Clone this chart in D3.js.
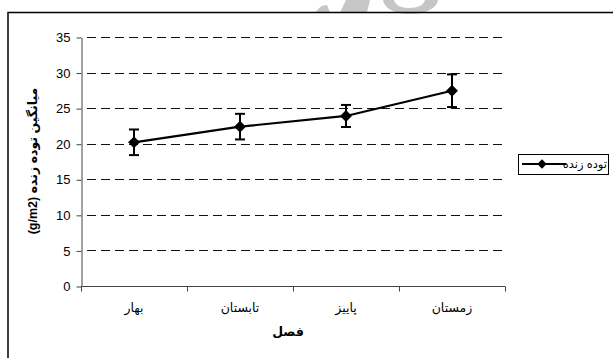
<!DOCTYPE html>
<html>
<head>
<meta charset="utf-8">
<script src="https://cdn.jsdelivr.net/npm/d3@7"></script>
<style>
  html, body { margin: 0; padding: 0; background: #fff; }
  svg { display: block; }
  text { font-family: "Liberation Sans", Arial, "DejaVu Sans", sans-serif; fill: #000; }
</style>
</head>
<body>
<svg id="chart" width="613" height="358"></svg>
<script>
// Seasons and mean living biomass (g/m2) with error margins
const seasons = ["بهار", "تابستان", "پاییز", "زمستان"];
const biomass = [20.2, 22.4, 23.9, 27.45];
const errors = [1.8, 1.8, 1.55, 2.3];
const yTicks = [0, 5, 10, 15, 20, 25, 30, 35];
const seriesName = "توده زنده";
const yTitle = "(g/m2) میانگین توده زنده";
const xTitle = "فصل";

const svg = d3.select("#chart");

// faint watermark shapes peeking above the frame
const wm = svg.append("g").attr("fill", "#c6c6c6");
wm.append("path").attr("d", "M316,12.5 C318,8 322,5 327,5 L330,12.5 Z");
wm.append("path").attr("d", "M340,12.5 L346,0 L370,0 L367,12.5 Z");
wm.append("path").attr("fill-rule", "evenodd")
  .attr("d", "M383,0 C384,8 394,14 410,14 C426,14 437,8 438,0 Z M394,0 C395,5 401,8 409,8 C418,8 424,5 425,0 Z");

// outer chart frame
svg.append("rect")
  .attr("x", 8).attr("y", 12.5).attr("width", 700).attr("height", 400)
  .attr("fill", "none").attr("stroke", "#000").attr("stroke-width", 1.5);

const plot = { left: 81, right: 505, top: 37, bottom: 286 };

const x = d3.scaleBand().domain(seasons).range([plot.left, plot.right]).padding(0);
const y = d3.scaleLinear().domain([0, 35]).range([plot.bottom, plot.top]);

// dashed horizontal gridlines
svg.append("g")
  .selectAll("line")
  .data(yTicks.filter(t => t > 0))
  .join("line")
  .attr("x1", plot.left + 1).attr("x2", plot.right)
  .attr("y1", d => Math.round(y(d)) + 0.5).attr("y2", d => Math.round(y(d)) + 0.5)
  .attr("stroke", "#111").attr("stroke-width", 1.1)
  .attr("stroke-dasharray", "9,5").attr("stroke-dashoffset", -5);

// y axis
const yAxis = svg.append("g")
  .attr("transform", `translate(${plot.left + 0.5},0.5)`)
  .call(d3.axisLeft(y).tickValues(yTicks).tickSize(5).tickSizeOuter(0).tickPadding(6));
yAxis.select(".domain").attr("stroke", "#444");
yAxis.selectAll(".tick line").attr("stroke", "#444");
yAxis.selectAll("text").attr("font-size", 13).attr("fill", "#000")
  .attr("font-family", "'Liberation Sans', Arial, sans-serif");

// x axis with ticks at category boundaries
const xAxis = svg.append("g")
  .attr("transform", `translate(0,${plot.bottom + 0.5})`);
xAxis.append("line")
  .attr("x1", plot.left).attr("x2", plot.right)
  .attr("stroke", "#444");
const bounds = seasons.map(s => x(s)).concat([x(seasons[seasons.length - 1]) + x.bandwidth()]);
xAxis.selectAll("line.tk").data(bounds).join("line")
  .attr("class", "tk")
  .attr("x1", d => Math.round(d) + 0.5).attr("x2", d => Math.round(d) + 0.5)
  .attr("y1", 0).attr("y2", 5)
  .attr("stroke", "#444");
xAxis.selectAll("text").data(seasons).join("text")
  .attr("x", d => x(d) + x.bandwidth() / 2)
  .attr("y", 25)
  .attr("text-anchor", "middle")
  .attr("font-family", "'DejaVu Sans', sans-serif")
  .style("font-size", "12.5px")
  .text(d => d);

// axis titles
svg.append("text")
  .attr("x", x.range()[0] + (x.range()[1] - x.range()[0]) / 2 - 5)
  .attr("y", 336)
  .attr("text-anchor", "middle")
  .attr("font-weight", "bold")
  .attr("font-size", 12.5)
  .attr("font-family", "'DejaVu Sans', sans-serif")
  .text(xTitle);

svg.append("text")
  .attr("transform", "translate(37,161) rotate(-90)")
  .attr("text-anchor", "middle")
  .attr("direction", "ltr")
  .attr("font-weight", "bold")
  .attr("font-size", 12.5)
  .text(yTitle);

// series
const cx = d => x(d) + x.bandwidth() / 2;
const pts = seasons.map((s, i) => ({ s, v: biomass[i], e: errors[i] }));

// error bars
const eb = svg.append("g").attr("stroke", "#000").attr("stroke-width", 2);
pts.forEach(p => {
  const px = cx(p.s);
  eb.append("line").attr("x1", px).attr("x2", px).attr("y1", y(p.v + p.e)).attr("y2", y(p.v - p.e));
  eb.append("line").attr("x1", px - 5).attr("x2", px + 5).attr("y1", y(p.v + p.e)).attr("y2", y(p.v + p.e));
  eb.append("line").attr("x1", px - 5).attr("x2", px + 5).attr("y1", y(p.v - p.e)).attr("y2", y(p.v - p.e));
});

svg.append("path")
  .datum(pts)
  .attr("fill", "none").attr("stroke", "#000").attr("stroke-width", 2.2)
  .attr("d", d3.line().x(p => cx(p.s)).y(p => y(p.v)));

// diamond markers
svg.append("g").selectAll("path")
  .data(pts).join("path")
  .attr("d", d3.symbol().type(d3.symbolSquare).size(70))
  .attr("transform", p => `translate(${cx(p.s)},${y(p.v)}) rotate(45)`)
  .attr("fill", "#000");

// legend
const lg = svg.append("g");
lg.append("rect").attr("x", 518.5).attr("y", 154.5).attr("width", 90).attr("height", 20)
  .attr("fill", "#fff").attr("stroke", "#000").attr("stroke-width", 1);
lg.append("line").attr("x1", 522).attr("x2", 566).attr("y1", 164).attr("y2", 164)
  .attr("stroke", "#000").attr("stroke-width", 2.2);
lg.append("path").attr("d", d3.symbol().type(d3.symbolSquare).size(44))
  .attr("transform", "translate(542,164) rotate(45)").attr("fill", "#000");
lg.append("text").attr("x", 607).attr("y", 168).attr("text-anchor", "end")
  .attr("font-size", 11.5)
  .attr("font-family", "'DejaVu Sans', sans-serif")
  .text(seriesName);
</script>
</body>
</html>
